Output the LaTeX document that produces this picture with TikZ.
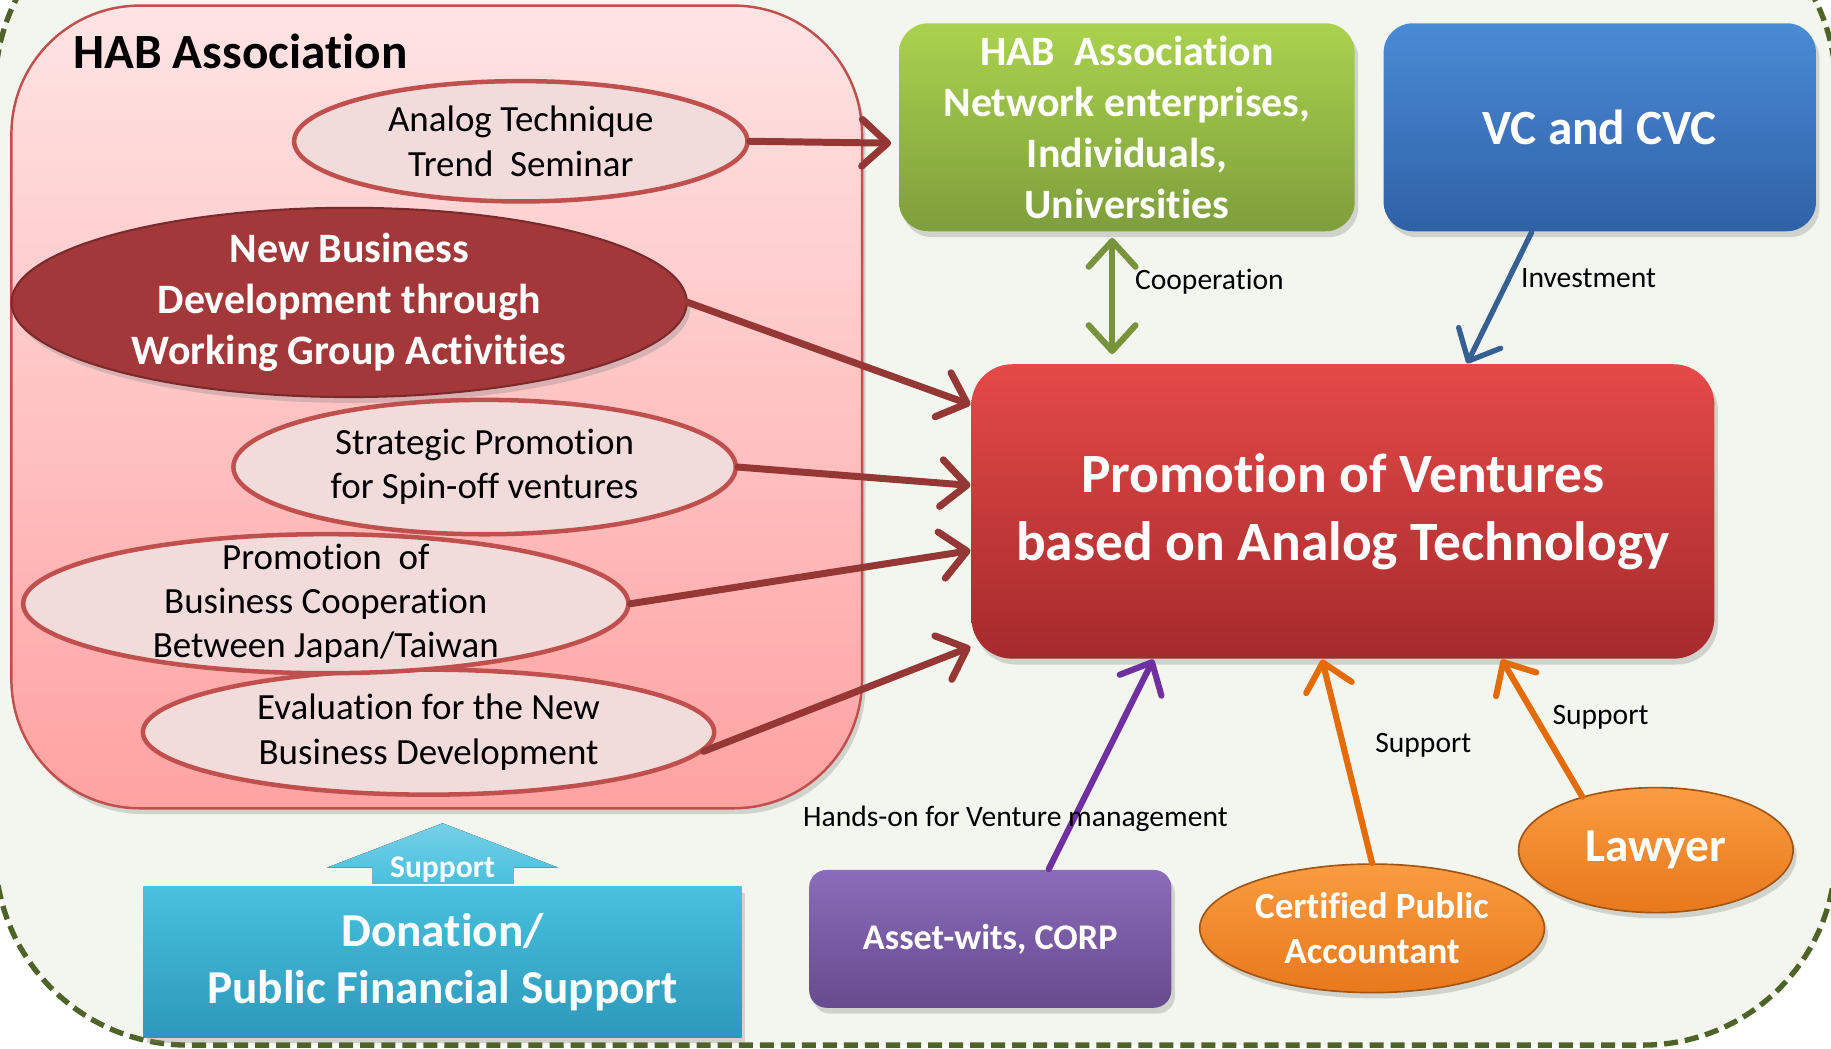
\documentclass[tikz,border=0pt]{standalone}
\usepackage{fontspec}
\setmainfont{Carlito}[Ligatures={NoCommon,NoDiscretionary,NoContextual}]
\usetikzlibrary{shapes.geometric, arrows.meta, shadows}

\definecolor{bgpaper}{RGB}{243,246,238}
\definecolor{bgdash}{RGB}{79,98,40}
\definecolor{habtop}{RGB}{255,228,228}
\definecolor{habbot}{RGB}{255,162,162}
\definecolor{habline}{RGB}{192,80,77}
\definecolor{pinkfill}{RGB}{242,220,219}
\definecolor{wgred}{RGB}{163,56,58}
\definecolor{arrred}{RGB}{149,55,53}
\definecolor{promtop}{RGB}{228,74,72}
\definecolor{prombot}{RGB}{166,42,44}
\definecolor{grntop}{RGB}{170,210,78}
\definecolor{grnbot}{RGB}{126,158,60}
\definecolor{blutop}{RGB}{74,139,214}
\definecolor{blubot}{RGB}{47,97,166}
\definecolor{purtop}{RGB}{138,108,186}
\definecolor{purbot}{RGB}{104,74,142}
\definecolor{orgtop}{RGB}{250,156,64}
\definecolor{orgbot}{RGB}{232,120,28}
\definecolor{cyntop}{RGB}{72,192,222}
\definecolor{cynbot}{RGB}{44,152,186}
\definecolor{coopgreen}{RGB}{119,147,60}
\definecolor{investblue}{RGB}{55,96,146}
\definecolor{handspurple}{RGB}{112,48,160}
\definecolor{supportorange}{RGB}{227,108,9}

\begin{document}
\begin{tikzpicture}[x=0.01cm, y=-0.01cm,
  >={Straight Barb[round, length=0.22cm, width=0.4cm]},
  softshadow/.style={drop shadow={opacity=0.3, shadow xshift=0.03cm, shadow yshift=-0.05cm}},
  panel/.style={draw=habline, line width=0.6pt, top color=habtop, bottom color=habbot, rounded corners=1.1cm, softshadow},
  topic/.style={ellipse, draw=habline, line width=1.1pt, fill=pinkfill, inner xsep=0pt, inner ysep=-0.3cm, align=center, font=\fontsize{9}{10.8}\selectfont},
  colbox/.style={rectangle, inner sep=0pt, align=center, text=white, softshadow},
  orangeell/.style={ellipse, inner sep=0pt, align=center, text=white, top color=orgtop, bottom color=orgbot, draw=orgbot!70!black, line width=0.4pt, softshadow},
  flow/.style={line width=1.5pt, line cap=round, ->},
  lbl/.style={inner sep=0pt, text=black, font=\fontsize{7.2}{8.6}\selectfont}]
\useasboundingbox (0,0) rectangle (1568,898);
% Background
\fill[white] (0,0) rectangle (1568,898);
\draw[bgdash, line width=1.3pt, dash pattern=on 0.12cm off 0.06cm, fill=bgpaper, rounded corners=1.65cm] (-4,-91) rectangle (1572,895);
% HAB Association panel
\node[panel, minimum width=7.28cm, minimum height=6.87cm] (hab) at (374,348.5) {};
\node[anchor=west, inner sep=0pt, font=\bfseries\fontsize{12}{14}\selectfont] (habtitle) at (62,44) {HAB Association};
% Activities
\node[topic, minimum width=3.88cm, minimum height=1.03cm] (seminar) at (446,121) {Analog Technique\\ Trend\ \ Seminar};
\node[topic, fill=wgred, draw=wgred!75!black, line width=0.5pt, text=white, font=\bfseries\fontsize{10.2}{12.5}\selectfont, softshadow, minimum width=5.78cm, minimum height=1.62cm] (wgroup) at (299,259) {New Business\\ Development through\\ Working Group Activities};
\node[topic, minimum width=4.3cm, minimum height=1.15cm] (spinoff) at (415,400) {Strategic Promotion\\ for Spin-off ventures};
\node[topic, minimum width=4.89cm, minimum height=1.07cm] (evaluate) at (367,627) {Evaluation for the New\\ Business Development};
\node[topic, minimum width=5.18cm, minimum height=1.19cm] (cooper) at (279,517) {Promotion\ \ of\\ Business Cooperation\\ Between Japan/Taiwan};
% Partners
\node[colbox, top color=grntop, bottom color=grnbot, rounded corners=0.25cm, minimum width=3.9cm, minimum height=1.78cm, font=\bfseries\fontsize{10.2}{12.4}\selectfont] (network) at (965,109) {HAB\ \ Association\\ Network enterprises,\\ Individuals,\\ Universities};
\node[colbox, top color=blutop, bottom color=blubot, rounded corners=0.25cm, minimum width=3.7cm, minimum height=1.78cm, font=\bfseries\fontsize{12}{14}\selectfont] (vc) at (1370,109) {VC and CVC};
\node[colbox, top color=promtop, bottom color=prombot, rounded corners=0.35cm, minimum width=6.36cm, minimum height=2.52cm, font=\bfseries\fontsize{13.5}{16.5}\selectfont] (prom) at (1150,438) {Promotion of Ventures\\ based on Analog Technology};
\node[colbox, top color=purtop, bottom color=purbot, rounded corners=0.15cm, minimum width=3.1cm, minimum height=1.18cm, font=\bfseries\fontsize{8.8}{10.5}\selectfont] (asset) at (848,804) {Asset-wits, CORP};
\node[orangeell, minimum width=2.95cm, minimum height=1.1cm, font=\bfseries\fontsize{9}{11.1}\selectfont] (cpa) at (1175,795) {Certified Public\\ Accountant};
\node[orangeell, minimum width=2.35cm, minimum height=1.07cm, font=\bfseries\fontsize{11.5}{13}\selectfont] (lawyer) at (1418,728) {Lawyer};
% Funding
\fill[top color=cyntop!75!white, bottom color=cyntop] (319,757) -- (319,743) -- (280,743) -- (379,705) -- (478,743) -- (440,743) -- (440,757) -- cycle;
\node[colbox, top color=cyntop, bottom color=cynbot, minimum width=5.12cm, minimum height=1.29cm, font=\bfseries\fontsize{11.5}{13.7}\selectfont] (donation) at (379,824) {Donation/\\ Public Financial Support};
\node[text=white, inner sep=0pt, font=\bfseries\fontsize{7.7}{9}\selectfont] (uplabel) at (379,745) {Support};
% Links from the activities
\draw[flow, arrred, line width=1.7pt, shorten >=0.06cm] (seminar.east) -- (network.184);
\draw[flow, arrred, line width=1.7pt] (wgroup.east) -- (prom.164);
\draw[flow, arrred, line width=1.7pt] (spinoff.east) -- (prom.176);
\draw[flow, arrred, line width=1.7pt] (cooper.east) -- (prom.186);
\draw[flow, arrred, line width=1.7pt] (evaluate.356) -- (prom.200);
% Links from the partners
\draw[flow, coopgreen, <->, shorten <=0.05cm, shorten >=0.08cm] (network.262) -- (network.262 |- prom.north) node[lbl, anchor=west, xshift=0.17cm, pos=0.38] (cooplbl) {Cooperation};
\draw[flow, investblue, line width=1.3pt] (vc.237) -- (prom.50) node[lbl, anchor=west, xshift=0.08cm, pos=0.35] (investlbl) {Investment};
\draw[flow, handspurple] (asset.50) -- (prom.218) node[lbl, pos=0.24, xshift=-0.5cm] (handslbl) {Hands-on for Venture management};
\draw[flow, supportorange] (cpa.north) -- (prom.262) node[lbl, anchor=west, xshift=0.25cm, pos=0.58] (cpalbl) {Support};
\draw[flow, supportorange] (lawyer.144) -- (prom.317) node[lbl, anchor=west, xshift=0.12cm, pos=0.58] (lawlbl) {Support};
\end{tikzpicture}
\end{document}
